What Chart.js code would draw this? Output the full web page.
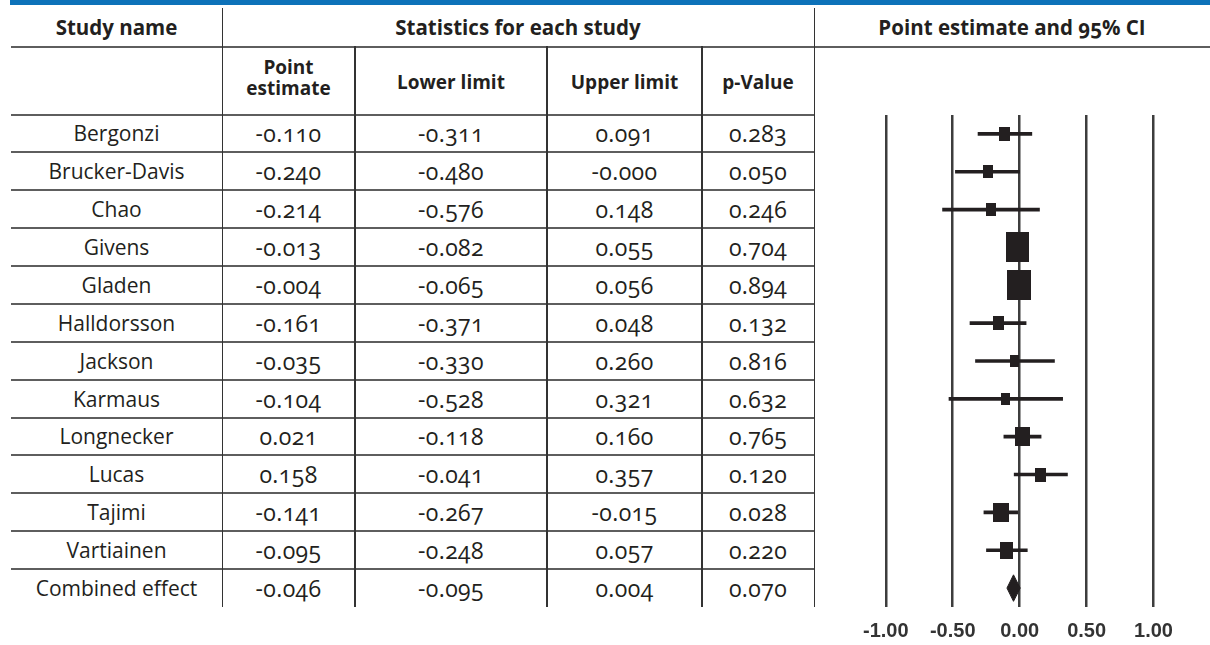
<!DOCTYPE html>
<html><head><meta charset="utf-8">
<script src="https://cdn.jsdelivr.net/npm/chart.js@4.4.1/dist/chart.umd.min.js"></script>
<style>
html,body{margin:0;padding:0;background:#fff;}
body{width:1210px;height:645px;position:relative;overflow:hidden;font-family:'Open Sans',sans-serif;color:#231f20;}
.t{position:absolute;text-align:center;white-space:nowrap;font-variant-numeric:oldstyle-nums;font-size:21px;}
.num{font-size:23px;letter-spacing:0.4px;}
.h{font-weight:700;font-size:20.5px;}
.hs{font-weight:700;font-size:19px;}
.ln{position:absolute;}
</style></head><body>
<div id="wrap" style="position:absolute;left:851px;top:115px;width:336px;height:540px;"><canvas id="c"></canvas></div>
<script>
const studies = ['Bergonzi','Brucker-Davis','Chao','Givens','Gladen','Halldorsson','Jackson','Karmaus','Longnecker','Lucas','Tajimi','Vartiainen','Combined effect'];
const pointEstimate = [-0.110,-0.240,-0.214,-0.013,-0.004,-0.161,-0.035,-0.104,0.021,0.158,-0.141,-0.095,-0.046];
const lowerLimit = [-0.311,-0.480,-0.576,-0.082,-0.065,-0.371,-0.330,-0.528,-0.118,-0.041,-0.267,-0.248,-0.095];
const upperLimit = [0.091,-0.0004,0.148,0.055,0.056,0.048,0.260,0.321,0.160,0.357,-0.015,0.057,0.004];
const pValue = [0.283,0.050,0.246,0.704,0.894,0.132,0.816,0.632,0.765,0.120,0.028,0.220,0.070];
const tickValues = [-1.00,-0.50,0.00,0.50,1.00];
const headerTop = ['Study name','Statistics for each study','Point estimate and 95% CI'];
const headerSub = ['Point<br>estimate','Lower limit','Upper limit','p-Value'];

// ---- table layout ----
const cols = [11,222,355,547,702,814];
const rowTop = 114.3, rowH = 37.9;
const nRows = studies.length;
const tableBottom = rowTop + rowH*nRows;
function line(x,y,w,h,c){const d=document.createElement('div');d.className='ln';d.style.cssText=`left:${x}px;top:${y}px;width:${w}px;height:${h}px;background:${c};`;document.body.appendChild(d);}
function text(html,x0,x1,yc,cls,lh){const d=document.createElement('div');d.className='t '+(cls||'');d.innerHTML=html;lh=lh||30;d.style.cssText+=`left:${x0}px;width:${x1-x0}px;top:${yc-lh/2}px;line-height:${lh}px;`;document.body.appendChild(d);return d;}
line(10,0,1200,5,'#0d72b9');
line(11,45.5,1199,2,'#5e5e5e');
line(11,113.5,803,2,'#5e5e5e');
for(let k=1;k<nRows;k++) line(11,rowTop+rowH*k-1,803,2,'#5e5e5e');
line(221.5,8,1.5,tableBottom-8,'#333');
line(813.5,8,1.5,tableBottom-8,'#333');
for(const x of [355,547,702]) line(x-0.75,46,1.5,tableBottom-46,'#333');
text(headerTop[0],cols[0],cols[1],27,'h');
text(headerTop[1],cols[1],cols[5],27,'h');
text(headerTop[2],cols[5],1210,27,'h');
text(headerSub[0],cols[1],cols[2],78,'hs',42).style.lineHeight='21px';
for(let j=1;j<4;j++) text(headerSub[j],cols[j+1],cols[j+2],82,'hs');
const fmt=v=>v.toFixed(3);
studies.forEach((s,i)=>{
  const yc=rowTop+rowH*(i+0.5);
  text(s,cols[0],cols[1],yc);
  text(fmt(pointEstimate[i]),cols[1],cols[2],yc,'num');
  text(fmt(lowerLimit[i]),cols[2],cols[3],yc,'num');
  text(fmt(upperLimit[i]),cols[3],cols[4],yc,'num');
  text(fmt(pValue[i]),cols[4],cols[5],yc,'num');
});

// ---- forest plot ----
const nStudy = studies.length-1;
const ciData = studies.slice(0,nStudy).map((s,i)=>({x:[lowerLimit[i],upperLimit[i]],y:i}));
const ptData = studies.slice(0,nStudy).map((s,i)=>({x:pointEstimate[i],y:i}));
const ck = nStudy, dh = 0.35;
const diamond = [
  {x:lowerLimit[ck],y:ck},{x:pointEstimate[ck],y:ck-dh},
  {x:upperLimit[ck],y:ck},{x:pointEstimate[ck],y:ck+dh},{x:lowerLimit[ck],y:ck}];
const markerSize = [[11,14],[10,13],[10,13],[23,30],[24,30],[11,14],[9,12],[9,12],[15,19],[11,14],[16,19],[13,17]];
const ink = '#231f20';
function box(w,h){const c=document.createElement('canvas');c.width=w;c.height=h;const g=c.getContext('2d');g.fillStyle=ink;g.fillRect(0,0,w,h);return c;}

new Chart(document.getElementById('c'),{
  type:'scatter',
  data:{datasets:[
    {type:'scatter',data:ptData,pointStyle:markerSize.map(([w,h])=>box(w,h)),pointRadius:8,pointHoverRadius:8,order:0},
    {type:'line',data:diamond,borderColor:ink,backgroundColor:ink,borderWidth:1,pointRadius:0,fill:'shape',order:1},
    {type:'bar',indexAxis:'y',data:ciData,backgroundColor:ink,barThickness:3,order:2}
  ]},
  options:{
    responsive:true,maintainAspectRatio:false,animation:false,events:[],
    layout:{padding:0,autoPadding:false},
    plugins:{legend:{display:false},tooltip:{enabled:false}},
    scales:{
      x:{type:'linear',min:-1.25,max:1.25,offset:false,
        afterBuildTicks:ax=>{ax.ticks=tickValues.map(v=>({value:v}));},
        grid:{color:'#3d3d3d',lineWidth:2.5,drawTicks:false,offset:false},
        border:{display:false},
        ticks:{autoSkip:false,maxRotation:0,padding:12,color:'#333',
          font:{family:"'Liberation Sans', Arial, sans-serif",size:20,weight:'bold'},
          callback:v=>Number(v).toFixed(2)}},
      y:{type:'linear',reverse:true,min:-0.5,max:nRows-0.5,display:false,offset:false,grid:{offset:false}}
    }
  }
});
</script>
</body></html>
